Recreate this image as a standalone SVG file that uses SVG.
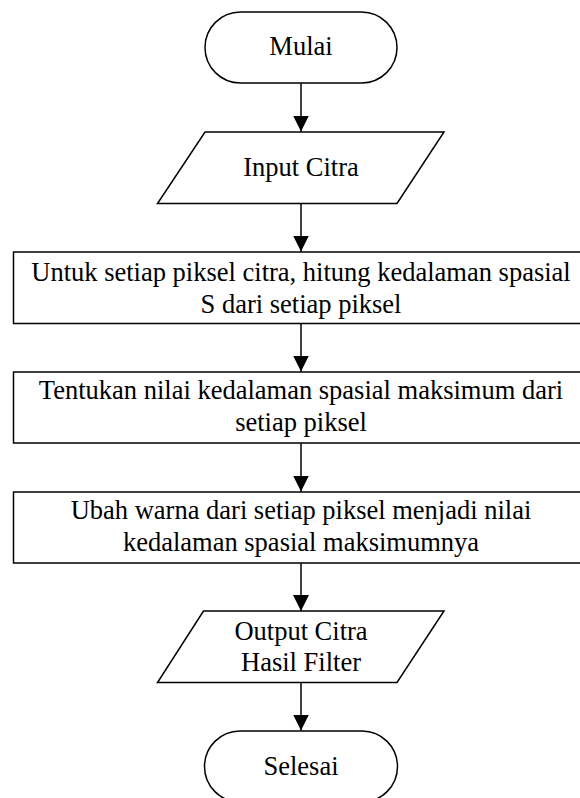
<svg xmlns="http://www.w3.org/2000/svg" width="580" height="798" viewBox="0 0 580 798">
  <style>
    .shape { fill: #ffffff; stroke: #000000; stroke-width: 1.5; }
    .edge { fill: none; stroke: #000000; stroke-width: 1.5; }
    .label { font-size: 26.5px; fill: #000000; text-anchor: middle; }
  </style>
  <defs>
    <marker id="arrow" markerUnits="userSpaceOnUse" markerWidth="16" markerHeight="16" refX="16" refY="8" orient="auto">
      <path d="M0,0 L16,8 L0,16 Z" fill="#000000"/>
    </marker>
  </defs>
  <rect width="580" height="798" fill="#ffffff"/>

  <!-- connectors -->
  <g id="connectors">
    <line class="edge" x1="301" y1="83" x2="301" y2="131.5" marker-end="url(#arrow)"/>
    <line class="edge" x1="301" y1="203.5" x2="301" y2="251.5" marker-end="url(#arrow)"/>
    <line class="edge" x1="301" y1="323.5" x2="301" y2="371.5" marker-end="url(#arrow)"/>
    <line class="edge" x1="301" y1="442.5" x2="301" y2="491.5" marker-end="url(#arrow)"/>
    <line class="edge" x1="301" y1="562.5" x2="301" y2="611" marker-end="url(#arrow)"/>
    <line class="edge" x1="301" y1="682.5" x2="301" y2="730.5" marker-end="url(#arrow)"/>
  </g>

  <g font-family="'Liberation Serif', 'Times New Roman', 'DejaVu Serif', serif">
    <!-- start -->
    <g id="start">
      <rect class="shape" x="205" y="12" width="192" height="71" rx="35.5" ry="35.5"/>
      <text class="label" x="301" y="55">Mulai</text>
    </g>

    <!-- input -->
    <g id="input">
      <polygon class="shape" points="205,132 444,132 397,203.5 157.5,203.5"/>
      <text class="label" x="301" y="175.5">Input Citra</text>
    </g>

    <!-- step 1 -->
    <g id="step1">
      <rect class="shape" x="13.5" y="252" width="575" height="71.5"/>
      <text class="label" x="301" y="280.5">Untuk setiap piksel citra, hitung kedalaman spasial</text>
      <text class="label" x="301" y="312.5">S dari setiap piksel</text>
    </g>

    <!-- step 2 -->
    <g id="step2">
      <rect class="shape" x="13.5" y="372" width="575" height="71"/>
      <text class="label" x="301" y="398.5">Tentukan nilai kedalaman spasial maksimum dari</text>
      <text class="label" x="301" y="431">setiap piksel</text>
    </g>

    <!-- step 3 -->
    <g id="step3">
      <rect class="shape" x="13.5" y="492" width="575" height="71"/>
      <text class="label" x="301" y="518.5">Ubah warna dari setiap piksel menjadi nilai</text>
      <text class="label" x="301" y="551">kedalaman spasial maksimumnya</text>
    </g>

    <!-- output -->
    <g id="output">
      <polygon class="shape" points="203.5,611 444,611 397,682.5 157.5,682.5"/>
      <text class="label" x="301" y="640">Output Citra</text>
      <text class="label" x="301" y="671">Hasil Filter</text>
    </g>

    <!-- end -->
    <g id="end">
      <rect class="shape" x="204.5" y="731" width="193" height="71" rx="35.5" ry="35.5"/>
      <text class="label" x="301" y="775">Selesai</text>
    </g>
  </g>
</svg>
